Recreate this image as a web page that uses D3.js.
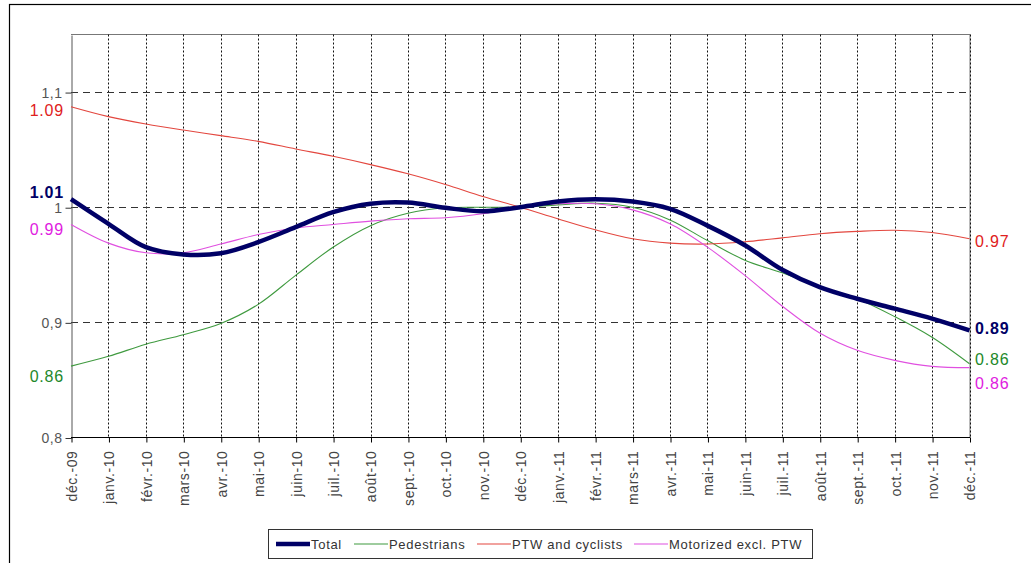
<!DOCTYPE html>
<html><head><meta charset="utf-8">
<script src="https://cdn.jsdelivr.net/npm/d3@7/dist/d3.min.js"></script>
<style>body{margin:0;background:#fff}svg{display:block}text{font-family:"Liberation Sans",Arial,sans-serif}</style>
</head><body>
<svg id="c" width="1031" height="563"></svg>
<script>
const months = ["déc.-09","janv.-10","févr.-10","mars-10","avr.-10","mai-10","juin-10","juil.-10","août-10","sept.-10","oct.-10","nov.-10","déc.-10","janv.-11","févr.-11","mars-11","avr.-11","mai-11","juin-11","juil.-11","août-11","sept.-11","oct.-11","nov.-11","déc.-11"];
const total = [1.007,0.9856,0.9653,0.959,0.960,0.9697,0.9827,0.9957,1.003,1.004,0.9995,0.9965,1.0,1.005,1.007,1.005,0.9986,0.984,0.967,0.9457,0.9306,0.9205,0.9119,0.9032,0.893];
const pedestrians = [0.862,0.8705,0.881,0.8893,0.899,0.9156,0.9408,0.9653,0.984,0.9948,0.9995,1.0,1.0,1.002,1.0035,1.0,0.989,0.971,0.954,0.943,0.931,0.9205,0.905,0.887,0.864];
const ptw = [1.0873,1.0787,1.0723,1.067,1.0622,1.0572,1.0506,1.0442,1.037,1.029,1.0197,1.0093,1.0,0.990,0.9804,0.9726,0.9688,0.968,0.970,0.9734,0.977,0.979,0.980,0.978,0.9726];
const motorized = [0.985,0.9688,0.9604,0.9604,0.968,0.9763,0.982,0.985,0.9879,0.990,0.9908,0.9943,1.0,1.003,1.003,0.9977,0.9856,0.9653,0.9408,0.914,0.8907,0.8757,0.867,0.8618,0.8607];
const seriesNames = ["Total","Pedestrians","PTW and cyclists","Motorized excl. PTW"];
const startLabels = ["1.01","0.86","1.09","0.99"];
const endLabels = ["0.89","0.86","0.97","0.86"];
const yTicks = [0.8,0.9,1.0,1.1];
const yTickLabels = ["0,8","0,9","1","1,1"];
const yDomain = [0.8,1.15];

const svg = d3.select("#c");
svg.append("rect").attr("width",1031).attr("height",563).attr("fill","#fff");
svg.append("rect").attr("x",9.5).attr("y",4.5).attr("width",1100).attr("height",700)
  .attr("fill","none").attr("stroke","#000").attr("stroke-width",1.2);

const L=71, R=969.5, T=34.5, B=437.5;
const x = d3.scalePoint().domain(months).range([L,R]);
const y = d3.scaleLinear().domain(yDomain).range([B,T]);

const styles = [
  {data:total, color:"#000066", label:"#000066", w:4.5, bold:true, ds:-7, de:-2},
  {data:pedestrians, color:"#3f9a3f", label:"#22882a", w:1.1, bold:false, ds:10, de:-4},
  {data:ptw, color:"#e3473f", label:"#e02020", w:1.1, bold:false, ds:4, de:3},
  {data:motorized, color:"#e050e0", label:"#e020e0", w:1.1, bold:false, ds:5, de:16}
];

// plot border
svg.append("line").attr("x1",L).attr("x2",R+0.5).attr("y1",T).attr("y2",T).attr("stroke","#777");
svg.append("line").attr("x1",R+0.5).attr("x2",R+0.5).attr("y1",T).attr("y2",B).attr("stroke","#777");

// vertical dotted grid
svg.append("g").selectAll("line").data(months.slice(1)).join("line")
  .attr("x1",d=>Math.round(x(d))+0.5).attr("x2",d=>Math.round(x(d))+0.5)
  .attr("y1",T).attr("y2",B).attr("stroke","#111").attr("stroke-width",1).attr("stroke-dasharray","2,2");

// horizontal dashed grid
svg.append("g").selectAll("line").data(yTicks.slice(1)).join("line")
  .attr("x1",L).attr("x2",R).attr("y1",d=>Math.round(y(d))+0.5).attr("y2",d=>Math.round(y(d))+0.5)
  .attr("stroke","#333").attr("stroke-width",1).attr("stroke-dasharray","7,5");

// y axis
const yAxis = d3.axisLeft(y).tickValues(yTicks).tickSize(6).tickSizeOuter(0).tickPadding(3)
  .tickFormat((d,i)=>yTickLabels[i]);
const gy = svg.append("g").attr("transform",`translate(${L+0.5},0.5)`).call(yAxis);
gy.select(".domain").attr("stroke","#555");
gy.selectAll(".tick line").attr("stroke","#333");
gy.selectAll("text").attr("font-size",14).attr("fill","#555").attr("letter-spacing",0.5);

// x axis
const xAxis = d3.axisBottom(x).tickSize(5).tickSizeOuter(0).tickPadding(6);
const gx = svg.append("g").attr("transform",`translate(0.5,${B})`).call(xAxis);
gx.select(".domain").attr("stroke","#000").attr("d",`M${L-0.5},0H${R}`);
gx.selectAll(".tick line").attr("stroke","#000");
gx.selectAll("text").attr("font-size",14).attr("fill","#444").attr("letter-spacing",0.6)
  .attr("text-anchor","end").attr("dy","0.35em")
  .attr("transform","translate(0,5) rotate(-90)").attr("x",-8).attr("y",0);

// lines
const line = d3.line().x((d,i)=>x(months[i])).y(d=>y(d)).curve(d3.curveCatmullRom.alpha(0.5));
[1,2,3,0].forEach(k=>{
  const s=styles[k];
  svg.append("path").datum(s.data).attr("d",line).attr("fill","none")
    .attr("stroke",s.color).attr("stroke-width",s.w).attr("stroke-linejoin","round");
});

// start / end labels
styles.forEach((s,k)=>{
  svg.append("text").attr("x",64).attr("y",y(s.data[0])+s.ds).attr("dy","0.35em")
    .attr("text-anchor","end").attr("font-size",16).attr("letter-spacing",0.8)
    .attr("font-weight",s.bold?"bold":"normal").attr("fill",s.label).text(startLabels[k]);
  svg.append("text").attr("x",975).attr("y",y(s.data[s.data.length-1])+s.de).attr("dy","0.35em")
    .attr("text-anchor","start").attr("font-size",16).attr("letter-spacing",0.8)
    .attr("font-weight",s.bold?"bold":"normal").attr("fill",s.label).text(endLabels[k]);
});

// legend
const lg = svg.append("g");
lg.append("rect").attr("x",268.5).attr("y",529.5).attr("width",544).attr("height",29)
  .attr("fill","#fff").attr("stroke","#333");
const legendX = [276,354,477,634];
styles.forEach((s,k)=>{
  lg.append("line").attr("x1",legendX[k]).attr("x2",legendX[k]+34).attr("y1",544).attr("y2",544)
    .attr("stroke",s.color).attr("stroke-width",s.w);
  lg.append("text").attr("x",legendX[k]+35).attr("y",544).attr("dy","0.35em")
    .attr("font-size",13).attr("letter-spacing",0.7).attr("fill","#333").text(seriesNames[k]);
});
</script>
</body></html>
